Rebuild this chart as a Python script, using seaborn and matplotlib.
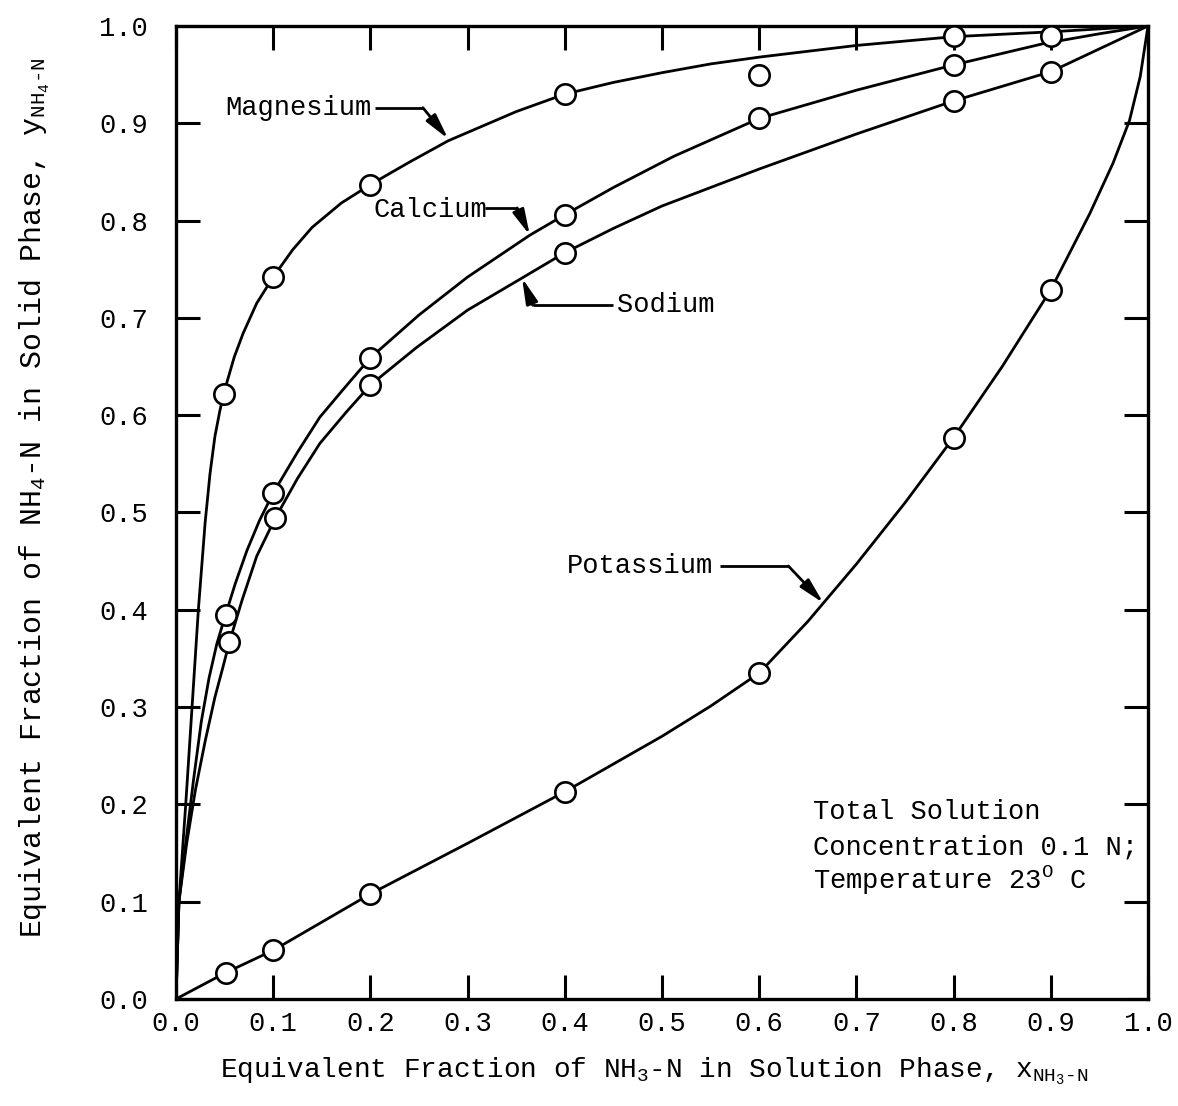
import matplotlib
matplotlib.use("Agg")
import matplotlib.pyplot as plt
import numpy as np
import pandas as pd
import seaborn as sns

# ---- measured points (open circles) ----
mg_px = [0.049, 0.100, 0.200, 0.400, 0.600, 0.800, 0.900]
mg_py = [0.622, 0.742, 0.837, 0.930, 0.950, 0.990, 0.990]

ca_px = [0.051, 0.100, 0.200, 0.400, 0.600, 0.800]
ca_py = [0.395, 0.520, 0.659, 0.806, 0.905, 0.960]

na_px = [0.055, 0.102, 0.200, 0.400, 0.800, 0.900]
na_py = [0.367, 0.494, 0.631, 0.767, 0.923, 0.953]

k_px = [0.051, 0.100, 0.200, 0.400, 0.600, 0.800, 0.900]
k_py = [0.027, 0.050, 0.108, 0.213, 0.335, 0.577, 0.729]

# ---- fitted isotherm curves ----
mg_cx = [0.0, 0.003, 0.010, 0.0165, 0.023, 0.030, 0.035, 0.040, 0.045, 0.049,
         0.053, 0.060, 0.069, 0.083, 0.100, 0.120, 0.140, 0.170, 0.200, 0.240,
         0.280, 0.350, 0.400, 0.450, 0.500, 0.550, 0.600, 0.700, 0.800, 0.900, 1.0]
mg_cy = [0.0, 0.100, 0.200, 0.300, 0.400, 0.490, 0.540, 0.578, 0.604, 0.622,
         0.636, 0.660, 0.684, 0.715, 0.742, 0.770, 0.793, 0.818, 0.837, 0.860,
         0.882, 0.912, 0.930, 0.942, 0.952, 0.961, 0.968, 0.980, 0.989, 0.994, 1.0]

ca_cx = [0.0, 0.003, 0.010, 0.018, 0.026, 0.034, 0.042, 0.051, 0.061, 0.073,
         0.086, 0.100, 0.125, 0.148, 0.175, 0.200, 0.250, 0.300, 0.364, 0.400,
         0.450, 0.512, 0.600, 0.700, 0.800, 0.893, 0.950, 1.0]
ca_cy = [0.0, 0.100, 0.160, 0.225, 0.285, 0.330, 0.365, 0.395, 0.427, 0.461,
         0.492, 0.520, 0.562, 0.598, 0.630, 0.659, 0.703, 0.742, 0.785, 0.806,
         0.834, 0.866, 0.905, 0.934, 0.960, 0.982, 0.992, 1.0]

na_cx = [0.0, 0.003, 0.011, 0.020, 0.030, 0.040, 0.048, 0.055, 0.068, 0.083,
         0.102, 0.125, 0.148, 0.175, 0.200, 0.248, 0.300, 0.356, 0.400, 0.450,
         0.500, 0.600, 0.700, 0.800, 0.900, 1.0]
na_cy = [0.0, 0.100, 0.160, 0.215, 0.265, 0.310, 0.340, 0.367, 0.410, 0.455,
         0.494, 0.535, 0.571, 0.603, 0.631, 0.670, 0.708, 0.741, 0.767, 0.792,
         0.815, 0.853, 0.889, 0.923, 0.953, 1.0]

k_cx = [0.0, 0.051, 0.100, 0.200, 0.300, 0.400, 0.500, 0.550, 0.600, 0.650,
        0.700, 0.750, 0.800, 0.850, 0.900, 0.940, 0.964, 0.981, 0.992, 1.0]
k_cy = [0.0, 0.027, 0.050, 0.108, 0.160, 0.213, 0.270, 0.301, 0.335, 0.388,
        0.447, 0.510, 0.577, 0.650, 0.729, 0.807, 0.859, 0.903, 0.948, 1.0]

tick_values = [0.0, 0.1, 0.2, 0.3, 0.4, 0.5, 0.6, 0.7, 0.8, 0.9, 1.0]
tick_labels = ["0.0", "0.1", "0.2", "0.3", "0.4", "0.5", "0.6", "0.7", "0.8", "0.9", "1.0"]

series_names = ["Magnesium", "Calcium", "Sodium", "Potassium"]

points = pd.concat([
    pd.DataFrame({"series": name, "x": px, "y": py})
    for name, px, py in zip(series_names,
                            [mg_px, ca_px, na_px, k_px],
                            [mg_py, ca_py, na_py, k_py])
], ignore_index=True)

curves = pd.concat([
    pd.DataFrame({"series": name, "x": cx, "y": cy})
    for name, cx, cy in zip(series_names,
                            [mg_cx, ca_cx, na_cx, k_cx],
                            [mg_cy, ca_cy, na_cy, k_cy])
], ignore_index=True)

sns.set_theme(style="ticks")
plt.rcParams["font.family"] = ["Liberation Mono", "DejaVu Sans Mono"]
plt.rcParams["mathtext.fontset"] = "custom"
plt.rcParams["mathtext.rm"] = "Liberation Mono"
plt.rcParams["mathtext.it"] = "Liberation Mono"
plt.rcParams["mathtext.bf"] = "Liberation Mono"
plt.rcParams["text.color"] = "black"
plt.rcParams["axes.labelcolor"] = "black"

fig = plt.figure(figsize=(11.78, 11.06), dpi=100)
ax = fig.add_axes([0.14941, 0.09675, 0.82513, 0.87975])

sns.lineplot(data=curves, x="x", y="y", units="series", estimator=None,
             sort=False, color="black", linewidth=2.0, ax=ax, zorder=2)
sns.scatterplot(data=points, x="x", y="y", marker="o", s=215,
                color="white", edgecolor="black", linewidth=1.9,
                ax=ax, zorder=3, legend=False, clip_on=False)

ax.set_xlim(0, 1)
ax.set_ylim(0, 1)
ax.set_xticks(tick_values)
ax.set_xticklabels(tick_labels)
ax.set_yticks(tick_values)
ax.set_yticklabels(tick_labels)

for side in ["left", "right", "top", "bottom"]:
    ax.spines[side].set_linewidth(2.4)
    ax.spines[side].set_color("black")

ax.tick_params(axis="both", direction="in", length=17, width=2.2,
               top=True, right=True, labelsize=19.5, colors="black")
ax.tick_params(axis="x", pad=9)
ax.tick_params(axis="y", pad=20)

ax.set_xlabel(r"Equivalent Fraction of NH$_3$-N in Solution Phase, x$_{\mathrm{NH_3\text{-}N}}$",
              fontsize=20)
ax.xaxis.set_label_coords(0.492, -0.058)
ax.set_ylabel(r"Equivalent Fraction of NH$_4$-N in Solid Phase, y$_{\mathrm{NH_4\text{-}N}}$",
              fontsize=21.5)
ax.yaxis.set_label_coords(-0.128, 0.515)

label_kw = dict(fontsize=19.5, ha="left", va="center", color="black")
line_kw = dict(color="black", linewidth=2.0, solid_capstyle="butt")
arrow_kw = dict(arrowstyle="-|>,head_length=0.85,head_width=0.2", color="black",
                lw=2.0, shrinkA=0, shrinkB=0, mutation_scale=18)

# Magnesium
ax.text(0.051, 0.916, "Magnesium", **label_kw)
ax.plot([0.205, 0.254], [0.916, 0.916], **line_kw)
ax.annotate("", xy=(0.280, 0.884), xytext=(0.254, 0.916), arrowprops=arrow_kw)

# Calcium
ax.text(0.203, 0.811, "Calcium", **label_kw)
ax.plot([0.318, 0.351], [0.813, 0.813], **line_kw)
ax.annotate("", xy=(0.364, 0.785), xytext=(0.351, 0.813), arrowprops=arrow_kw)

# Sodium
ax.text(0.454, 0.713, "Sodium", **label_kw)
ax.plot([0.450, 0.367], [0.713, 0.713], **line_kw)
ax.annotate("", xy=(0.356, 0.741), xytext=(0.367, 0.713), arrowprops=arrow_kw)

# Potassium
ax.text(0.402, 0.445, "Potassium", **label_kw)
ax.plot([0.560, 0.630], [0.445, 0.445], **line_kw)
ax.annotate("", xy=(0.666, 0.407), xytext=(0.630, 0.445), arrowprops=arrow_kw)

cond_kw = dict(fontsize=19.5, ha="left", va="center", color="black")
ax.text(0.655, 0.192, "Total Solution", **cond_kw)
ax.text(0.655, 0.156, "Concentration 0.1 N;", **cond_kw)
ax.text(0.655, 0.122, r"Temperature 23$^{\mathrm{O}}$ C", **cond_kw)

fig.savefig("out.png", dpi=100, facecolor="white")
